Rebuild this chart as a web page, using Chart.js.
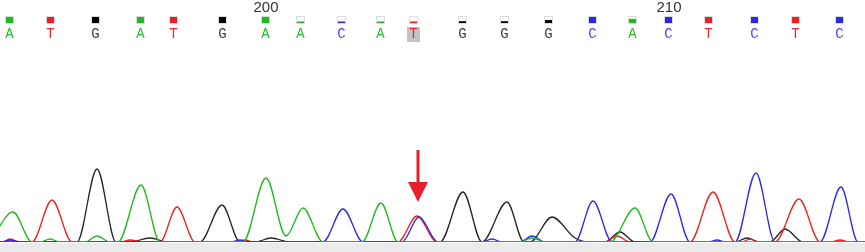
<!DOCTYPE html>
<html><head><meta charset="utf-8">
<script src="https://cdn.jsdelivr.net/npm/chart.js@4"></script>
<style>html,body{margin:0;padding:0;background:#fff}canvas{display:block}</style>
</head><body>
<canvas id="c" width="865" height="252"></canvas>
<script>
// Base calls
const bases = ["A","T","G","A","T","G","A","A","C","A","T","G","G","G","C","A","C","T","C","T","C"];
const basePos = [9,50,95,140,173,222,265,300,341,380,413,462,504,548,592,632,668,708,754,795,839];
const quality = [40,40,40,40,40,40,40,10,10,10,8,12,12,20,40,28,40,40,40,40,40];
const firstBaseNumber = 194;
const numberedBases = [200,210];
const highlightIndex = 10;
// Arrow marker (x in trace units, y in signal units)
const arrowX = 418, arrowTop = 92, arrowHead = 60, arrowTip = 40;

// Trace channels: sample positions and signal values
const traceA_x = [-10,13,32, 40,50,60, 85,97,110, 118,141,160, 243,266,286,303,323, 362,381,398, 520,532,545, 610,635,653, 870];
const traceA_y = [0,30,0, 0,3,0, 0,6,0, 0,57,0, 0,64,6,34,0, 0,39,0, 0,4,0, 0,34,0, 0];
const traceT_x = [-10,2,10,20, 32,52,72, 120,130,142, 160,177,195, 236,245,254, 398,417,437, 605,617,630, 690,713,735, 742,750,758, 775,799,820, 830,840,850, 870];
const traceT_y = [0,0,3,0, 0,42,0, 0,2,0, 0,35,0, 0,2,0, 0,26,0, 0,6,0, 0,50,0, 0,3,0, 0,43,0, 0,2,0, 0];
const traceC_x = [-10,2,10,20, 230,240,250, 323,343,363, 402,419,438, 482,492,502, 520,532,545, 575,593,612, 650,671,690, 708,717,726, 735,756,775, 820,841,858, 870];
const traceC_y = [0,0,2,0, 0,2,0, 0,33,0, 0,25,0, 0,3,0, 0,6,0, 0,41,0, 0,48,0, 0,2,0, 0,69,0, 0,55,0, 0];
const traceG_x = [-10,77,97,116, 130,150,168, 200,222,240, 255,271,290, 440,463,482, 482,507,524, 530,552,575,590, 605,620,635, 735,747,760, 770,785,803, 870];
const traceG_y = [0,0,73,0, 0,4,0, 0,37,0, 0,4,0, 0,50,0, 0,40,0, 0,25,4,0, 0,10,0, 0,4,0, 0,13,0, 0];

const channelColors = {A:"rgb(30,185,30)", C:"rgb(40,40,235)", G:"rgb(35,35,35)", T:"rgb(240,30,30)"};
const letterColors = {A:"rgb(40,190,40)", C:"rgb(70,70,230)", G:"rgb(60,60,60)", T:"rgb(235,40,40)"};

function pts(xs, ys){ return xs.map((x,i)=>({x:x, y:ys[i]})); }
function ds(label, xs, ys, color){
  return {label, data: pts(xs,ys), borderColor: color, borderWidth: 1.3, pointRadius: 0,
          fill: false, cubicInterpolationMode: 'monotone'};
}

const overlay = {
  id: 'overlay',
  beforeDraw(chart){
    const ctx = chart.ctx, a = chart.chartArea;
    ctx.save();
    ctx.fillStyle = '#fff';
    ctx.fillRect(0,0,chart.width,chart.height);
    ctx.fillStyle = '#ebebeb';
    ctx.fillRect(0, a.bottom + 1, chart.width, chart.height - a.bottom - 1);
    ctx.restore();
  },
  afterDatasetsDraw(chart){
    const ctx = chart.ctx, xs = chart.scales.x, ys = chart.scales.y;
    ctx.save();
    // highlight
    const hx = xs.getPixelForValue(basePos[highlightIndex]);
    ctx.fillStyle = '#c4c4c4';
    ctx.fillRect(Math.round(hx) - 6, 27, 13, 15);
    // quality boxes + letters
    bases.forEach((b,i)=>{
      const px = Math.round(xs.getPixelForValue(basePos[i]));
      const bx = px - 4, by = 16;
      ctx.fillStyle = '#dcdcdc';
      ctx.fillRect(bx, by, 9, 8);
      ctx.fillStyle = '#fff';
      ctx.fillRect(bx+1, by+1, 7, 6);
      const fh = Math.max(1.5, Math.min(quality[i],40)/40*6);
      ctx.fillStyle = channelColors[b].replace('35,35,35','0,0,0');
      ctx.fillRect(bx+1, by+7-fh, 7, fh);
      ctx.fillStyle = letterColors[b];
      ctx.font = '14px "Liberation Mono", monospace';
      ctx.textAlign = 'center';
      ctx.textBaseline = 'alphabetic';
      ctx.fillText(b, px + 0.5, 38);
    });
    // position numbers
    ctx.fillStyle = '#333';
    ctx.font = '15px "Liberation Sans", Arial, sans-serif';
    ctx.textAlign = 'center';
    numberedBases.forEach(n=>{
      const i = n - firstBaseNumber;
      ctx.fillText(String(n), xs.getPixelForValue(basePos[i]) + 1, 12);
    });
    // arrow
    const ax = xs.getPixelForValue(arrowX);
    const yTop = ys.getPixelForValue(arrowTop), yHead = ys.getPixelForValue(arrowHead), yTip = ys.getPixelForValue(arrowTip);
    ctx.fillStyle = 'rgb(232,32,40)';
    ctx.fillRect(ax - 1.5, yTop, 3, yHead - yTop + 1);
    ctx.beginPath();
    ctx.moveTo(ax - 10, yHead);
    ctx.lineTo(ax + 10, yHead);
    ctx.lineTo(ax, yTip);
    ctx.closePath();
    ctx.fill();
    ctx.restore();
  }
};

new Chart(document.getElementById('c'), {
  type: 'line',
  data: { datasets: [
    ds('A', traceA_x, traceA_y, channelColors.A),
    ds('C', traceC_x, traceC_y, channelColors.C),
    ds('T', traceT_x, traceT_y, channelColors.T),
    ds('G', traceG_x, traceG_y, channelColors.G)
  ]},
  options: {
    responsive: false, animation: false, devicePixelRatio: 1,
    layout: { padding: { top: 60, bottom: 10, left: 0, right: 0 } },
    scales: {
      x: { type: 'linear', min: 0, max: 865, display: false },
      y: { min: 0, max: 182, display: false }
    },
    plugins: { legend: { display: false }, tooltip: { enabled: false } },
    elements: { line: { borderJoinStyle: 'round' } }
  },
  plugins: [overlay]
});
</script>
</body></html>
